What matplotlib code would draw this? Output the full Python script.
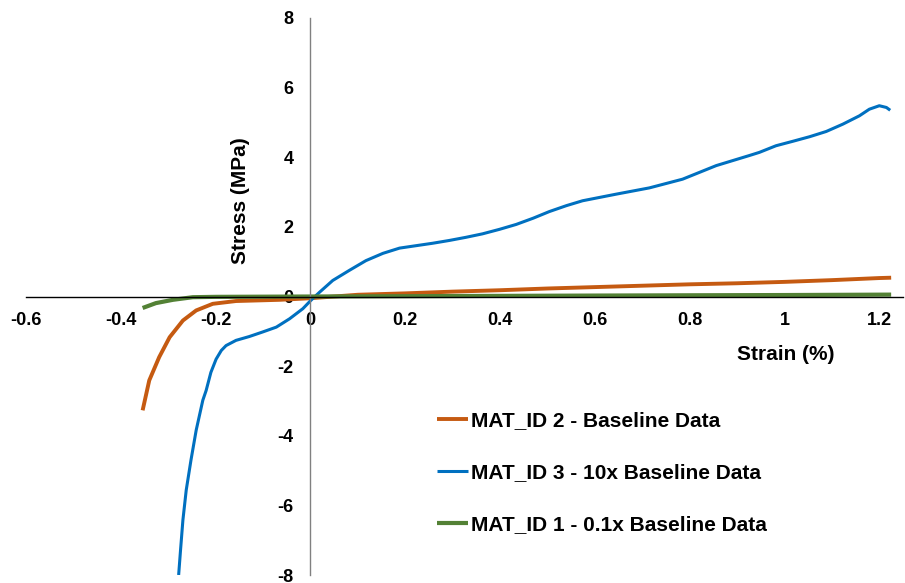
import matplotlib
matplotlib.use("Agg")
import matplotlib.pyplot as plt

# MAT_ID 2 - Baseline Data
strain_mat2 = [-0.354, -0.34, -0.319, -0.297, -0.269, -0.241, -0.206, -0.157, -0.065, 0.0,
               0.1, 0.2, 0.3, 0.4, 0.5, 0.6, 0.7, 0.8, 0.9, 1.0, 1.1, 1.2, 1.225]
stress_mat2 = [-3.27, -2.41, -1.74, -1.17, -0.69, -0.40, -0.21, -0.13, -0.095, -0.05,
               0.05, 0.09, 0.14, 0.18, 0.23, 0.27, 0.31, 0.35, 0.38, 0.42, 0.47, 0.53, 0.54]

# MAT_ID 3 - 10x Baseline Data
strain_mat3 = [-0.278, -0.274, -0.269, -0.262, -0.252, -0.241, -0.227, -0.220, -0.21, -0.199,
               -0.188, -0.178, -0.157, -0.129, -0.101, -0.072, -0.044, -0.016, 0.001, 0.019,
               0.047, 0.082, 0.117, 0.153, 0.188, 0.223, 0.258, 0.293, 0.328, 0.363,
               0.399, 0.434, 0.47, 0.504, 0.54, 0.574, 0.645, 0.715, 0.785, 0.856,
               0.926, 0.947, 0.982, 1.018, 1.053, 1.088, 1.123, 1.158, 1.179, 1.2,
               1.215, 1.223]
stress_mat3 = [-8.0, -7.28, -6.42, -5.56, -4.70, -3.84, -2.98, -2.70, -2.18, -1.80,
               -1.55, -1.41, -1.26, -1.15, -1.02, -0.88, -0.64, -0.35, -0.11, 0.12,
               0.46, 0.75, 1.03, 1.24, 1.39, 1.46, 1.53, 1.61, 1.70, 1.80,
               1.93, 2.07, 2.25, 2.44, 2.61, 2.75, 2.94, 3.12, 3.37, 3.76,
               4.05, 4.14, 4.33, 4.46, 4.59, 4.74, 4.95, 5.19, 5.38, 5.48,
               5.43, 5.35]

# MAT_ID 1 - 0.1x Baseline Data
strain_mat1 = [-0.354, -0.326, -0.29, -0.248, -0.2, -0.1, 0.0,
               0.2, 0.4, 0.6, 0.8, 1.0, 1.225]
stress_mat1 = [-0.33, -0.19, -0.095, -0.02, -0.01, -0.005, 0.0,
               0.009, 0.018, 0.027, 0.035, 0.042, 0.054]

x_ticks = [-0.6, -0.4, -0.2, 0, 0.2, 0.4, 0.6, 0.8, 1, 1.2]
x_tick_labels = ["-0.6", "-0.4", "-0.2", "0", "0.2", "0.4", "0.6", "0.8", "1", "1.2"]
y_ticks = [-8, -6, -4, -2, 0, 2, 4, 6, 8]
y_tick_labels = ["-8", "-6", "-4", "-2", "0", "2", "4", "6", "8"]

plt.rcParams["font.family"] = ["Liberation Sans", "DejaVu Sans"]
plt.rcParams["font.weight"] = "bold"
plt.rcParams["axes.unicode_minus"] = False

fig = plt.figure(figsize=(9.05, 5.83), dpi=100)
ax = fig.add_axes([26 / 905, 8 / 583, 877 / 905, 557 / 583])

line_kw = dict(solid_joinstyle="round", solid_capstyle="butt")
ax.plot(strain_mat2, stress_mat2, color="#C55A11", linewidth=2.8,
        label="MAT_ID 2 - Baseline Data", **line_kw)
ax.plot(strain_mat3, stress_mat3, color="#0070C0", linewidth=2.2,
        label="MAT_ID 3 - 10x Baseline Data", **line_kw)
ax.plot(strain_mat1, stress_mat1, color="#538135", linewidth=3.0,
        label="MAT_ID 1 - 0.1x Baseline Data", **line_kw)

ax.set_xlim(-0.6, 1.25)
ax.set_ylim(-8, 8)

ax.spines["left"].set_position(("data", 0))
ax.spines["bottom"].set_position(("data", 0))
ax.spines["right"].set_visible(False)
ax.spines["top"].set_visible(False)
ax.spines["left"].set_color("#808080")
ax.spines["bottom"].set_color("black")
ax.spines["left"].set_linewidth(1.0)
ax.spines["bottom"].set_linewidth(1.0)

ax.set_xticks(x_ticks)
ax.set_xticklabels(x_tick_labels)
ax.set_yticks(y_ticks)
ax.set_yticklabels(y_tick_labels)
ax.tick_params(axis="both", length=0, labelsize=13)
ax.tick_params(axis="x", pad=11)
ax.tick_params(axis="y", pad=12)
for lab in ax.get_xticklabels() + ax.get_yticklabels():
    lab.set_fontweight("bold")

ax.text(-0.148, 2.75, "Stress (MPa)", rotation=90, ha="center", va="center",
        fontsize=15, fontweight="bold")
ax.text(1.002, -1.66, "Strain (%)", ha="center", va="center",
        fontsize=15, fontweight="bold")

leg = ax.legend(loc="upper left", bbox_to_anchor=(437 / 905, 1 - 411 / 583),
                bbox_transform=fig.transFigure, frameon=False, fontsize=15,
                handlelength=1.5, handletextpad=0.15, labelspacing=1.58,
                borderpad=0, borderaxespad=0)
for t in leg.get_texts():
    t.set_fontweight("bold")

fig.savefig("out.png", dpi=100)
plt.close(fig)
